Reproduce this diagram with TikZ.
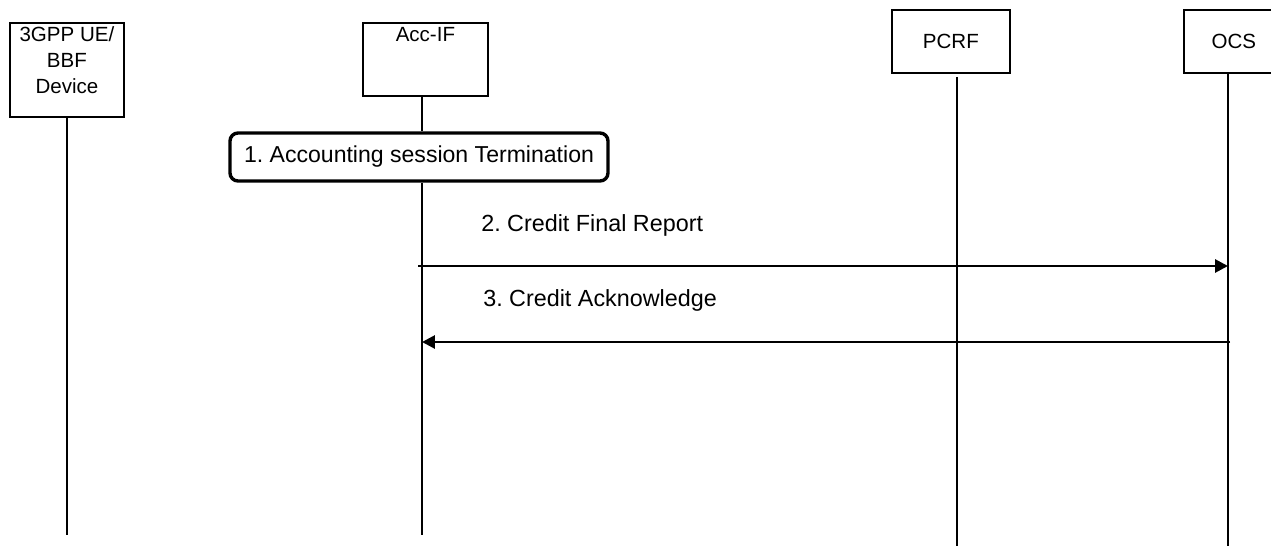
\documentclass[tikz,border=0pt]{standalone}
\usepackage{fontspec}
\setmainfont{Liberation Sans}
\frenchspacing
\usetikzlibrary{positioning, arrows.meta}
\tikzstyle{entity} = [rectangle, draw=black, line width=1.3pt, inner sep=0pt, font=\fontsize{14.6}{18.5}\selectfont]
\tikzstyle{toplbl} = [align=center, anchor=north, font=\fontsize{14.6}{18.5}\selectfont]
\tikzstyle{life} = [line width=1.3pt]
\tikzstyle{proc} = [rectangle, rounded corners=0.2cm, draw=black, line width=2.4pt, minimum width=9.45cm, minimum height=1.2cm, text centered, font=\fontsize{16.4}{19}\selectfont]
\tikzstyle{msg} = [line width=2pt, -{Triangle[length=0.32cm, width=0.32cm]}]
\tikzstyle{msglbl} = [anchor=west, inner sep=0pt, font=\fontsize{16.6}{19}\selectfont]
\def\bot{-13.375}

\begin{document}
\begin{tikzpicture}
\useasboundingbox (0,0) rectangle (31.775,-13.65);

% entities
\node (ue) [entity, minimum width=2.85cm, minimum height=2.35cm, anchor=north west,
  label={[toplbl]north:3GPP UE/\\BBF\\Device}] at (0.225,-0.55) {};
\node (accif) [entity, minimum width=3.125cm, minimum height=1.825cm, anchor=north west,
  label={[toplbl]north:Acc-IF}] at (9.05,-0.55) {};
\node (pcrf) [entity, minimum width=2.95cm, minimum height=1.575cm, anchor=north west] at (22.275,-0.225) {PCRF};
\node (ocs) [entity, minimum width=2.5cm, minimum height=1.575cm, anchor=north west] at (29.575,-0.225) {OCS};

% lifeline ends
\coordinate (ueend) at (1.675,\bot);
\coordinate (accend) at (10.55,\bot);
\coordinate (pcrfend) at (23.925,-13.65);
\coordinate (ocsend) at (30.7,-13.65);

% 1
\node (term) [proc] at (10.475,-3.925) {1. Accounting session Termination};

\draw [life] (ueend |- ue.south) -- (ueend);
\draw [life] (accend |- accif.south) -- (accend |- term.north);
\draw [life] (accend |- term.south) -- (accend);
\draw [life] ([yshift=-0.075cm]pcrfend |- pcrf.south) -- (pcrfend);
\draw [life] (ocsend |- ocs.south) -- (ocsend);

% 2
\coordinate (m2a) at (10.45,-6.65);
\coordinate (m2b) at (30.7,-6.65);
\node (lbl2) [msglbl] at (12.025,-5.63) {2. Credit Final Report};
\draw [msg] (m2a) -- (m2b);

% 3
\coordinate (m3a) at (30.75,-8.55);
\coordinate (m3b) at (10.55,-8.55);
\node (lbl3) [msglbl] at (12.075,-7.52) {3. Credit Acknowledge};
\draw [msg] (m3a) -- (m3b);

\end{tikzpicture}
\end{document}
